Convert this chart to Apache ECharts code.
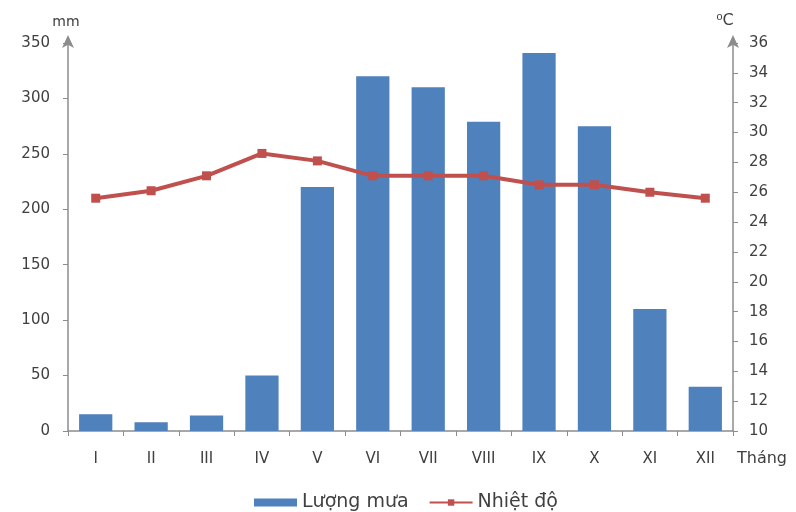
<!DOCTYPE html>
<html><head><meta charset="utf-8">
<script src="https://cdn.jsdelivr.net/npm/echarts@6/dist/echarts.min.js"></script>
<style>html,body{margin:0;padding:0;background:#fff}#c{width:796px;height:512px}</style>
</head><body><div id="c"></div>
<script>
var months = ['I','II','III','IV','V','VI','VII','VIII','IX','X','XI','XII'];
var rainfall = [15, 8, 14, 50, 220, 320, 310, 279, 341, 275, 110, 40];
var temperature = [25.6, 26.1, 27.1, 28.6, 28.1, 27.1, 27.1, 27.1, 26.5, 26.5, 26.0, 25.6];
var rainName = 'Lượng mưa';
var tempName = 'Nhiệt độ';

var font = 'DejaVu Sans';
var txt = '#404040';
var axisCol = '#8c8c8c';
var chart = echarts.init(document.getElementById('c'));
chart.setOption({
  animation: false,
  textStyle: {fontFamily: font},
  grid: {left: 68, right: 63, top: 43, bottom: 81},
  legend: {
    top: 488, left: 249, itemGap: 20,
    textStyle: {fontFamily: font, fontSize: 19, color: txt},
    data: [
      {name: rainName, icon: 'rect', itemStyle: {color: '#4F81BD'}},
      {name: tempName}
    ],
    itemWidth: 43, itemHeight: 8
  },
  xAxis: {
    type: 'category', data: months,
    name: 'Tháng', nameLocation: 'end', nameGap: 4,
    nameTextStyle: {fontSize: 16, color: txt, verticalAlign: 'top', padding: [20, 0, 0, 0]},
    axisLine: {lineStyle: {color: axisCol, width: 1.5}},
    axisTick: {show: true, length: 5, lineStyle: {color: axisCol}},
    axisLabel: {margin: 21, fontSize: 15, color: txt}
  },
  yAxis: [
    {
      type: 'value', min: 0, max: 350, interval: 50, position: 'left',
      name: 'mm', nameGap: 14, nameTextStyle: {fontSize: 14, color: txt, padding: [0, 4, 0, 0]},
      axisLine: {show: true, symbol: ['none', 'arrow'], symbolSize: [9, 13], symbolOffset: [0, 8], lineStyle: {color: axisCol, width: 1.5}},
      axisTick: {show: true, length: 5, lineStyle: {color: axisCol}},
      axisLabel: {margin: 18, fontSize: 15, color: txt},
      splitLine: {show: false}
    },
    {
      type: 'value', min: 10, max: 36, interval: 2, position: 'right',
      name: '⁰C', nameGap: 14, nameTextStyle: {fontSize: 16, color: txt, padding: [0, 16, 0, 0]},
      axisLine: {show: true, symbol: ['none', 'arrow'], symbolSize: [9, 13], symbolOffset: [0, 8], lineStyle: {color: axisCol, width: 1.5}},
      axisTick: {show: true, length: 5, lineStyle: {color: axisCol}},
      axisLabel: {margin: 16, fontSize: 15, color: txt},
      splitLine: {show: false}
    }
  ],
  series: [
    {
      name: rainName, type: 'bar', data: rainfall, yAxisIndex: 0,
      barWidth: '60%', itemStyle: {color: '#4F81BD'}
    },
    {
      name: tempName, type: 'line', data: temperature, yAxisIndex: 1,
      symbol: 'rect', symbolSize: 9,
      lineStyle: {color: '#C0504D', width: 4},
      itemStyle: {color: '#C0504D'}
    }
  ]
});
</script></body></html>
